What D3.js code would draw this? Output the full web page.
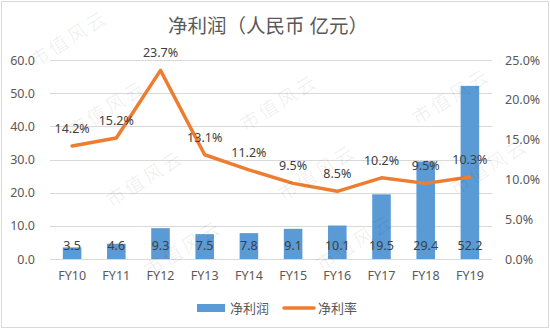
<!DOCTYPE html>
<html>
<head>
<meta charset="utf-8">
<script src="https://cdn.jsdelivr.net/npm/d3@7"></script>
<style>
  html, body { margin: 0; padding: 0; background: #fff; }
  svg { display: block; }
  text { font-family: "Noto Sans", "Noto Sans CJK SC", sans-serif; }
</style>
</head>
<body>
<div id="chart"></div>
<script>
// Net profit (RMB 100m) and net margin (%) by fiscal year
const categories = ["FY10", "FY11", "FY12", "FY13", "FY14", "FY15", "FY16", "FY17", "FY18", "FY19"];
const netProfit = [3.5, 4.6, 9.3, 7.5, 7.8, 9.1, 10.1, 19.5, 29.4, 52.2];
const netMargin = [14.2, 15.2, 23.7, 13.1, 11.2, 9.5, 8.5, 10.2, 9.5, 10.3];
const leftTicks = [0, 10, 20, 30, 40, 50, 60];
const rightTicks = [0, 5, 10, 15, 20, 25];
const titleText = "净利润（人民币 亿元）";
const seriesNames = ["净利润", "净利率"];
const watermarkText = "市值风云";

const W = 550, H = 330;
const plot = { left: 50, right: 492, top: 60, bottom: 259 };
const barColor = "#5B9BD5", lineColor = "#ED7D31";

const svg = d3.select("#chart").append("svg")
  .attr("width", W).attr("height", H);

svg.append("rect").attr("x", 0).attr("y", 0).attr("width", W).attr("height", H).attr("fill", "#fff");
svg.append("rect").attr("x", 1.5).attr("y", 1.5).attr("width", W - 3).attr("height", H - 4)
  .attr("fill", "none").attr("stroke", "#d9d9d9").attr("stroke-width", 1);

const x = d3.scaleBand().domain(categories).range([plot.left, plot.right]).paddingInner(0.58).paddingOuter(0.29);
const xc = d => x(d) + x.bandwidth() / 2;
const yL = d3.scaleLinear().domain([0, 60]).range([plot.bottom, plot.top]);
const yR = d3.scaleLinear().domain([0, 25]).range([plot.bottom, plot.top]);

// Title
svg.append("text")
  .attr("x", 268).attr("y", 33)
  .attr("text-anchor", "middle")
  .attr("font-family", "'Noto Sans CJK SC', sans-serif")
  .attr("font-size", 19.5).attr("fill", "#595959")
  .text(titleText);

// Gridlines
svg.append("g").selectAll("line").data(leftTicks).join("line")
  .attr("x1", plot.left).attr("x2", plot.right)
  .attr("y1", d => Math.round(yL(d)) + 0.5).attr("y2", d => Math.round(yL(d)) + 0.5)
  .attr("stroke", "#d9d9d9").attr("stroke-width", 1);

// Left axis
const axL = svg.append("g").attr("transform", `translate(${plot.left},0)`)
  .call(d3.axisLeft(yL).tickValues(leftTicks).tickFormat(d3.format(".1f")).tickSize(0).tickPadding(15));
axL.select(".domain").remove();
axL.selectAll("text").attr("font-size", 12.5).attr("fill", "#595959").attr("font-family", "'Noto Sans', sans-serif");

// Right axis
const axR = svg.append("g").attr("transform", `translate(${plot.right},0)`)
  .call(d3.axisRight(yR).tickValues(rightTicks).tickFormat(d => d3.format(".1f")(d) + "%").tickSize(0).tickPadding(13));
axR.select(".domain").remove();
axR.selectAll("text").attr("font-size", 12.5).attr("fill", "#595959").attr("font-family", "'Noto Sans', sans-serif");

// Category axis
const axB = svg.append("g").attr("transform", `translate(0,${plot.bottom})`)
  .call(d3.axisBottom(x).tickSize(0).tickPadding(12));
axB.select(".domain").remove();
axB.selectAll("text").attr("font-size", 12.5).attr("fill", "#595959").attr("font-family", "'Noto Sans', sans-serif");

// Bars
const rows = categories.map((c, i) => ({ c, p: netProfit[i], m: netMargin[i] }));
svg.append("g").selectAll("rect").data(rows).join("rect")
  .attr("x", d => x(d.c)).attr("width", x.bandwidth())
  .attr("y", d => yL(d.p)).attr("height", d => yL(0) - yL(d.p))
  .attr("fill", barColor);

// Bar labels at the base
svg.append("g").selectAll("text").data(rows).join("text")
  .attr("x", d => xc(d.c)).attr("y", yL(0) - 9)
  .attr("text-anchor", "middle").attr("font-size", 12.5).attr("fill", "#404040")
  .text(d => d3.format(".1f")(d.p));

// Margin line
const line = d3.line().x(d => xc(d.c)).y(d => yR(d.m));
svg.append("path").datum(rows)
  .attr("d", line).attr("fill", "none")
  .attr("stroke", lineColor).attr("stroke-width", 3.5)
  .attr("stroke-linejoin", "round").attr("stroke-linecap", "round");

// Margin labels
svg.append("g").selectAll("text").data(rows).join("text")
  .attr("x", d => xc(d.c)).attr("y", d => yR(d.m) - 13)
  .attr("text-anchor", "middle").attr("font-size", 12.5).attr("fill", "#404040")
  .text(d => d3.format(".1f")(d.m) + "%");

// Legend
const lg = svg.append("g");
lg.append("rect").attr("x", 197).attr("y", 304).attr("width", 28).attr("height", 8).attr("fill", barColor);
lg.append("text").attr("x", 230).attr("y", 312.5).attr("font-size", 13).attr("fill", "#595959")
  .attr("font-family", "'Noto Sans CJK SC', sans-serif").text(seriesNames[0]);
lg.append("line").attr("x1", 284).attr("x2", 314).attr("y1", 308).attr("y2", 308)
  .attr("stroke", lineColor).attr("stroke-width", 3.5).attr("stroke-linecap", "round");
lg.append("text").attr("x", 318).attr("y", 312.5).attr("font-size", 13).attr("fill", "#595959")
  .attr("font-family", "'Noto Sans CJK SC', sans-serif").text(seriesNames[1]);

// Tiled watermark, only copies that fit inside the frame
const wm = svg.append("g").attr("pointer-events", "none");
const halfW = 44, halfH = 36;
for (let i = -1; i <= 3; i++) {
  for (let j = -1; j <= 5; j++) {
    const cx = 70 + i * 172 + j * 38;
    const cy = 40 - i * 6 + j * 70;
    if (cx - halfW < 2 || cx + halfW > W - 2 || cy - halfH < 2 || cy + halfH > H - 2) continue;
    wm.append("text")
      .attr("transform", `translate(${cx},${cy}) rotate(-32)`)
      .attr("text-anchor", "middle").attr("dominant-baseline", "middle")
      .attr("font-family", "'Noto Sans CJK SC', sans-serif")
      .attr("font-size", 19).attr("letter-spacing", 3)
      .attr("fill", "#000").attr("fill-opacity", 0.065)
      .text(watermarkText);
  }
}
</script>
</body>
</html>
